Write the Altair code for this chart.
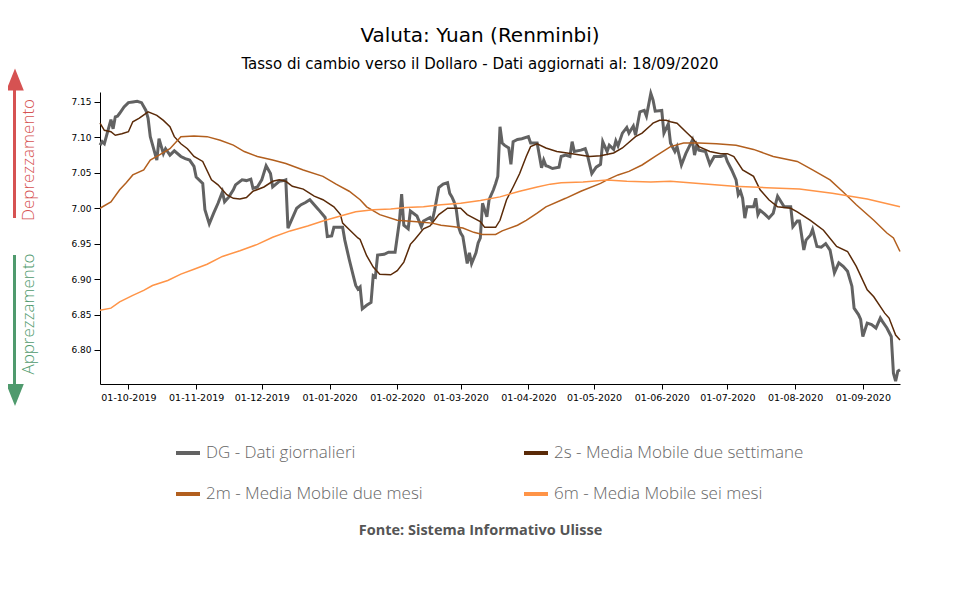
import altair as alt
import pandas as pd

# ---------------- data ----------------
dg_dates = [
    "2019-09-18","2019-09-19","2019-09-20","2019-09-23","2019-09-24","2019-09-25","2019-09-26","2019-09-27",
    "2019-09-29","2019-10-01","2019-10-03","2019-10-05","2019-10-07","2019-10-09","2019-10-10","2019-10-11",
    "2019-10-14","2019-10-15","2019-10-17","2019-10-18","2019-10-20","2019-10-22","2019-10-25","2019-10-27",
    "2019-10-29","2019-10-31","2019-11-01","2019-11-04","2019-11-05","2019-11-07","2019-11-09","2019-11-11",
    "2019-11-13","2019-11-14","2019-11-16","2019-11-18","2019-11-19","2019-11-22","2019-11-24","2019-11-26",
    "2019-11-27","2019-11-29","2019-12-01","2019-12-03","2019-12-05","2019-12-06","2019-12-09","2019-12-11",
    "2019-12-12","2019-12-13","2019-12-15","2019-12-17","2019-12-19","2019-12-21","2019-12-23","2019-12-25",
    "2019-12-27","2019-12-30","2019-12-31","2020-01-02","2020-01-03","2020-01-07","2020-01-08","2020-01-10",
    "2020-01-12","2020-01-13","2020-01-14","2020-01-15","2020-01-16","2020-01-18","2020-01-20","2020-01-21",
    "2020-01-22","2020-01-23","2020-01-26","2020-01-28","2020-01-31","2020-02-02","2020-02-03","2020-02-04",
    "2020-02-06","2020-02-07","2020-02-10","2020-02-12","2020-02-13","2020-02-16","2020-02-17","2020-02-18",
    "2020-02-20","2020-02-22","2020-02-24","2020-02-25","2020-02-26","2020-02-27","2020-02-28","2020-02-29",
    "2020-03-01","2020-03-02","2020-03-04","2020-03-05","2020-03-06","2020-03-08","2020-03-09","2020-03-10",
    "2020-03-11","2020-03-13","2020-03-14","2020-03-16","2020-03-17","2020-03-18","2020-03-19","2020-03-20",
    "2020-03-21","2020-03-23","2020-03-24","2020-03-25","2020-03-27","2020-03-29","2020-04-01","2020-04-02",
    "2020-04-05","2020-04-07","2020-04-08","2020-04-09","2020-04-10","2020-04-12","2020-04-15","2020-04-16",
    "2020-04-18","2020-04-20","2020-04-21","2020-04-22","2020-04-25","2020-04-27","2020-04-28","2020-04-30",
    "2020-05-02","2020-05-04","2020-05-05","2020-05-07","2020-05-08","2020-05-10","2020-05-11","2020-05-12",
    "2020-05-14","2020-05-16","2020-05-17","2020-05-19","2020-05-20","2020-05-22","2020-05-24","2020-05-25",
    "2020-05-27","2020-05-28","2020-05-29","2020-06-01","2020-06-02","2020-06-04","2020-06-05","2020-06-07",
    "2020-06-08","2020-06-10","2020-06-12","2020-06-15","2020-06-16","2020-06-17","2020-06-18","2020-06-21",
    "2020-06-23","2020-06-25","2020-06-28","2020-06-30","2020-07-01","2020-07-03","2020-07-05","2020-07-06",
    "2020-07-07","2020-07-08","2020-07-09","2020-07-10","2020-07-13","2020-07-14","2020-07-15","2020-07-16",
    "2020-07-18","2020-07-20","2020-07-22","2020-07-24","2020-07-26","2020-07-27","2020-07-30","2020-07-31",
    "2020-08-02","2020-08-03","2020-08-05","2020-08-06","2020-08-08","2020-08-09","2020-08-11","2020-08-13",
    "2020-08-15","2020-08-17","2020-08-19","2020-08-21","2020-08-23","2020-08-25","2020-08-27","2020-08-28",
    "2020-08-30","2020-08-31","2020-09-01","2020-09-03","2020-09-05","2020-09-07","2020-09-09","2020-09-10",
    "2020-09-12","2020-09-14","2020-09-15","2020-09-16","2020-09-17","2020-09-18",
]
dg_values = [
    7.089,7.094,7.091,7.125,7.112,7.129,7.130,7.134,
    7.143,7.149,7.150,7.151,7.149,7.138,7.127,7.101,
    7.068,7.098,7.077,7.084,7.075,7.081,7.073,7.070,
    7.068,7.059,7.044,7.035,6.998,6.978,6.993,7.007,
    7.023,7.009,7.016,7.026,7.033,7.040,7.039,7.041,
    7.028,7.030,7.040,7.060,7.049,7.030,7.038,7.039,
    7.040,6.972,6.986,7.000,7.005,7.008,7.012,7.005,
    6.998,6.987,6.960,6.961,6.973,6.973,6.955,6.928,
    6.903,6.891,6.886,6.889,6.858,6.863,6.867,6.905,
    6.903,6.934,6.935,6.938,6.938,6.982,7.020,6.976,
    6.971,6.996,6.989,6.974,6.982,6.987,6.982,6.996,
    7.029,7.034,7.036,7.021,7.016,7.009,6.998,6.974,
    6.965,6.960,6.922,6.937,6.922,6.937,6.951,6.958,
    7.007,6.988,7.012,7.026,7.035,7.045,7.115,7.092,
    7.089,7.085,7.062,7.094,7.097,7.098,7.101,7.092,
    7.092,7.057,7.068,7.060,7.059,7.056,7.058,7.073,
    7.075,7.073,7.094,7.080,7.082,7.084,7.075,7.049,
    7.058,7.062,7.094,7.080,7.089,7.083,7.095,7.088,
    7.106,7.114,7.106,7.116,7.103,7.136,7.138,7.130,
    7.162,7.153,7.137,7.138,7.106,7.119,7.092,7.080,
    7.087,7.061,7.077,7.096,7.075,7.089,7.082,7.080,
    7.062,7.073,7.073,7.075,7.066,7.054,7.040,7.019,
    7.024,7.014,6.986,7.002,7.002,7.014,6.991,6.997,
    6.992,6.986,6.993,7.017,7.007,7.002,7.002,6.974,
    6.982,6.982,6.941,6.955,6.962,6.970,6.946,6.945,
    6.950,6.941,6.909,6.923,6.918,6.911,6.890,6.859,
    6.850,6.843,6.819,6.838,6.836,6.831,6.845,6.840,
    6.831,6.819,6.767,6.756,6.770,6.772,
]

ma2s_dates = [
    "2019-09-18","2019-09-20","2019-09-23","2019-09-25","2019-09-28","2019-10-01","2019-10-03","2019-10-06",
    "2019-10-10","2019-10-14","2019-10-17","2019-10-20","2019-10-22","2019-10-25","2019-10-28","2019-10-31",
    "2019-11-04","2019-11-08","2019-11-11","2019-11-15","2019-11-18","2019-11-21","2019-11-24","2019-11-27",
    "2019-12-02","2019-12-06","2019-12-09","2019-12-12","2019-12-15","2019-12-20","2019-12-25","2019-12-29",
    "2020-01-03","2020-01-06","2020-01-07","2020-01-10","2020-01-14","2020-01-15","2020-01-18","2020-01-21",
    "2020-01-24","2020-01-29","2020-02-01","2020-02-04","2020-02-07","2020-02-09","2020-02-13","2020-02-16",
    "2020-02-20","2020-02-24","2020-02-27","2020-03-01","2020-03-04","2020-03-07","2020-03-10","2020-03-12",
    "2020-03-17","2020-03-19","2020-03-22","2020-03-25","2020-03-28","2020-03-31","2020-04-02","2020-04-05",
    "2020-04-09","2020-04-14","2020-04-21","2020-04-29","2020-05-04","2020-05-10","2020-05-14","2020-05-20",
    "2020-05-23","2020-05-27","2020-05-28","2020-05-31","2020-06-03","2020-06-05","2020-06-08","2020-06-12",
    "2020-06-15","2020-06-18","2020-06-23","2020-06-28","2020-07-01","2020-07-04","2020-07-08","2020-07-13",
    "2020-07-16","2020-07-20","2020-07-24","2020-07-30","2020-08-02","2020-08-08","2020-08-14","2020-08-20",
    "2020-08-25","2020-08-29","2020-09-03","2020-09-06","2020-09-11","2020-09-13","2020-09-16","2020-09-18",
]
ma2s_values = [
    7.120,7.110,7.108,7.103,7.105,7.108,7.122,7.127,
    7.136,7.131,7.124,7.115,7.101,7.091,7.084,7.073,
    7.066,7.040,7.033,7.019,7.014,7.013,7.015,7.024,
    7.030,7.038,7.040,7.038,7.031,7.027,7.017,7.012,
    7.002,6.991,6.979,6.970,6.958,6.956,6.933,6.917,
    6.907,6.906,6.912,6.924,6.949,6.956,6.971,6.975,
    6.991,7.000,7.000,7.000,6.991,6.986,6.981,6.973,
    6.973,6.983,7.012,7.030,7.049,7.073,7.087,7.091,
    7.085,7.080,7.077,7.073,7.074,7.078,7.085,7.101,
    7.106,7.117,7.120,7.124,7.124,7.122,7.120,7.108,
    7.099,7.087,7.080,7.077,7.077,7.073,7.054,7.045,
    7.026,7.012,7.002,7.000,6.995,6.983,6.969,6.946,
    6.939,6.918,6.885,6.875,6.852,6.845,6.821,6.814,
]

ma2m_dates = [
    "2019-09-18","2019-09-23","2019-09-27","2019-09-30","2019-10-03","2019-10-08","2019-10-11","2019-10-15",
    "2019-10-20","2019-10-25","2019-10-31","2019-11-06","2019-11-12","2019-11-18","2019-11-23","2019-11-29",
    "2019-12-06","2019-12-12","2019-12-20","2019-12-29","2020-01-04","2020-01-10","2020-01-15","2020-01-18",
    "2020-01-24","2020-02-01","2020-02-10","2020-02-17","2020-02-21","2020-02-27","2020-03-02","2020-03-07",
    "2020-03-11","2020-03-17","2020-03-20","2020-03-27","2020-03-31","2020-04-05","2020-04-09","2020-04-18",
    "2020-04-25","2020-05-04","2020-05-07","2020-05-12","2020-05-17","2020-05-23","2020-05-29","2020-06-05",
    "2020-06-11","2020-06-18","2020-06-26","2020-07-05","2020-07-13","2020-07-22","2020-08-02","2020-08-09",
    "2020-08-17","2020-08-23","2020-08-29","2020-09-06","2020-09-12","2020-09-15","2020-09-18",
]
ma2m_values = [
    7.000,7.009,7.026,7.036,7.047,7.054,7.068,7.075,
    7.084,7.101,7.102,7.101,7.096,7.089,7.080,7.073,
    7.068,7.063,7.054,7.045,7.034,7.024,7.012,7.002,
    6.991,6.983,6.981,6.979,6.976,6.974,6.972,6.966,
    6.963,6.963,6.968,6.976,6.983,6.993,7.002,7.014,
    7.024,7.035,7.040,7.047,7.052,7.061,7.073,7.087,
    7.092,7.092,7.091,7.089,7.083,7.073,7.066,7.054,
    7.040,7.023,7.005,6.983,6.965,6.958,6.939,
]

ma6m_dates = [
    "2019-09-18","2019-09-23","2019-09-27","2019-10-03","2019-10-08","2019-10-12","2019-10-19","2019-10-25",
    "2019-10-31","2019-11-06","2019-11-13","2019-11-21","2019-11-29","2019-12-06","2019-12-14","2019-12-22",
    "2019-12-29","2020-01-06","2020-01-13","2020-01-21","2020-01-29","2020-02-05","2020-02-13","2020-02-21",
    "2020-03-01","2020-03-10","2020-03-19","2020-03-28","2020-04-05","2020-04-11","2020-04-16","2020-04-26",
    "2020-05-07","2020-05-16","2020-05-27","2020-06-05","2020-06-18","2020-07-04","2020-07-19","2020-08-03",
    "2020-08-18","2020-09-03","2020-09-18",
]
ma6m_values = [
    6.856,6.859,6.868,6.877,6.884,6.891,6.898,6.907,
    6.914,6.921,6.932,6.940,6.949,6.959,6.968,6.975,
    6.982,6.989,6.995,6.998,6.999,7.001,7.002,7.005,
    7.007,7.011,7.016,7.024,7.030,7.034,7.036,7.037,
    7.040,7.038,7.037,7.038,7.035,7.031,7.029,7.027,
    7.021,7.013,7.002,
]

series_names = [
    "DG - Dati giornalieri",
    "2s - Media Mobile due settimane",
    "2m - Media Mobile due mesi",
    "6m - Media Mobile sei mesi",
]
series_colors = ["#626262", "#5a2a08", "#b25f1e", "#ff9447"]

month_ticks = [(2019, 10), (2019, 11), (2019, 12), (2020, 1), (2020, 2), (2020, 3),
               (2020, 4), (2020, 5), (2020, 6), (2020, 7), (2020, 8), (2020, 9)]
y_ticks = [6.80, 6.85, 6.90, 6.95, 7.00, 7.05, 7.10, 7.15]

title_text = "Valuta: Yuan (Renminbi)"
subtitle_text = "Tasso di cambio verso il Dollaro - Dati aggiornati al: 18/09/2020"
source_text = "Fonte: Sistema Informativo Ulisse"

# ---------------- tables ----------------
frames = []
for name, d, v in zip(series_names,
                      [dg_dates, ma2s_dates, ma2m_dates, ma6m_dates],
                      [dg_values, ma2s_values, ma2m_values, ma6m_values]):
    frames.append(pd.DataFrame({"data": pd.to_datetime(d), "valore": v, "serie": name}))
df = pd.concat(frames, ignore_index=True)

LIGHT = "Open Sans"

x_enc = alt.X("data:T",
              scale=alt.Scale(domain=[alt.DateTime(year=2019, month=9, date=18),
                                      alt.DateTime(year=2020, month=9, date=18)]),
              axis=alt.Axis(values=[alt.DateTime(year=y, month=m, date=1) for y, m in month_ticks],
                            format="%d-%m-%Y", labelFontSize=9.5, labelFont="DejaVu Sans",
                            labelColor="black", tickColor="black", domainColor="black",
                            tickSize=5, labelPadding=3, grid=False, labelOverlap=False,
                            title=source_text, titleFont=LIGHT, titleFontWeight="bold",
                            titleFontSize=14.5, titleColor="#555555", titleX=380, titleY=146,
                            titleBaseline="middle", titleAlign="center"))
y_enc = alt.Y("valore:Q",
              scale=alt.Scale(domain=[6.752, 7.164], nice=False, zero=False),
              axis=alt.Axis(values=y_ticks, format=".2f", labelFontSize=9, labelFont="DejaVu Sans",
                            labelColor="black", tickColor="black", domainColor="black",
                            tickSize=6, labelPadding=3, grid=False, title=None))
color_enc = alt.Color("serie:N",
                      scale=alt.Scale(domain=series_names, range=series_colors),
                      legend=alt.Legend(title=None, orient="none", legendX=74, legendY=347,
                                        direction="horizontal", columns=2, columnPadding=93,
                                        rowPadding=19,
                                        symbolType="stroke", symbolSize=576, symbolStrokeWidth=4,
                                        labelFont=LIGHT, labelFontWeight=300, labelFontSize=17,
                                        labelColor="#666666", labelLimit=400, padding=0))

base = alt.Chart(df)
dg_layer = base.transform_filter(alt.datum.serie == series_names[0]).mark_line(strokeWidth=3).encode(
    x=x_enc, y=y_enc, color=color_enc, detail="serie:N")
ma_layer = base.transform_filter(alt.datum.serie != series_names[0]).mark_line(strokeWidth=1.5).encode(
    x=x_enc, y=y_enc, color=color_enc, detail="serie:N")

one = pd.DataFrame({"k": [0]})
deco = alt.Chart(one)
red = "#d65252"
green = "#4f9a6d"
red_shaft = deco.mark_rule(color=red, strokeWidth=3).encode(
    x=alt.value(-85.5), y=alt.value(-2), y2=alt.value(126))
red_head = deco.mark_point(shape="M-0.8,1L0,-1L0.8,1Z", filled=True, opacity=1, color=red, size=484).encode(
    x=alt.value(-85), y=alt.value(-12.5))
red_text = deco.mark_text(angle=270, align="center", baseline="middle", font=LIGHT, fontWeight=300,
                          fontSize=17, color=red).encode(
    x=alt.value(-71.5), y=alt.value(68), text=alt.value("Deprezzamento"))
green_shaft = deco.mark_rule(color=green, strokeWidth=3).encode(
    x=alt.value(-85.5), y=alt.value(163), y2=alt.value(293))
green_head = deco.mark_point(shape="M-0.8,-1L0,1L0.8,-1Z", filled=True, opacity=1, color=green, size=484).encode(
    x=alt.value(-85), y=alt.value(303))
green_text = deco.mark_text(angle=270, align="center", baseline="middle", font=LIGHT, fontWeight=300,
                            fontSize=17, color=green).encode(
    x=alt.value(-71.5), y=alt.value(222), text=alt.value("Apprezzamento"))

chart = alt.layer(dg_layer, ma_layer, red_shaft, red_head, red_text,
                  green_shaft, green_head, green_text).properties(
    width=800, height=292,
    title=alt.Title(text=title_text, subtitle=subtitle_text, anchor="middle", dx=-20,
                    font="DejaVu Sans", fontSize=20, fontWeight="normal", color="black",
                    subtitleFont="DejaVu Sans", subtitleFontSize=15, subtitleColor="black",
                    offset=-3, subtitlePadding=11),
    autosize=alt.AutoSizeParams(type="none"),
    padding={"left": 92, "top": 84, "right": 50, "bottom": 170},
).configure_view(stroke=None)

chart.save("out.html", embed_options={"renderer": "svg", "actions": False})
